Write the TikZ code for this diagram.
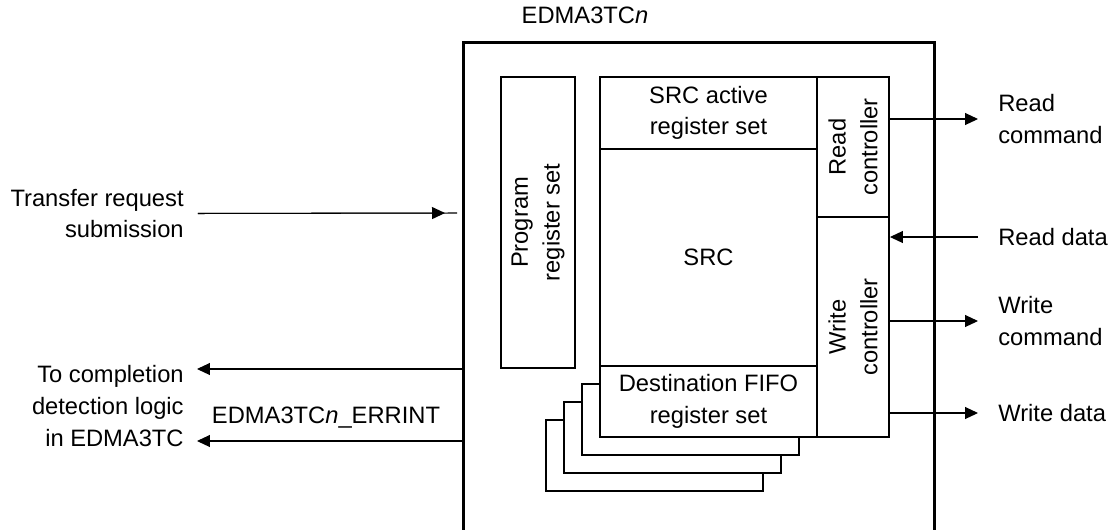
\documentclass[tikz,border=0pt]{standalone}
\usepackage{fontspec}
\setmainfont{Liberation Sans}
\usetikzlibrary{arrows.meta, positioning, calc}

\begin{document}
\begin{tikzpicture}[x=0.02cm, y=-0.02cm,
    font=\fontsize{13.5}{18}\selectfont,
    box/.style={draw, line width=1.1pt, fill=white, inner sep=0pt, align=center},
    lbl/.style={inner sep=0pt, align=left},
    arr/.style={line width=0.6pt, -{Triangle[length=0.26cm, width=0.24cm]}}]
    \useasboundingbox (0,0) rectangle (1110,529);

    % Transfer controller
    \node[draw, line width=1.7pt, minimum width=9.44cm, minimum height=10.4cm] (tc) at (699,302) {};
    \node (title) at (585,15) {EDMA3TC\textit{n}};

    \node[box, minimum width=5.82cm, minimum height=1.48cm, rotate=90] (prog) at (538,222.5) {Program\\register set};

    % Destination FIFO copies behind
    \foreach \k in {3,2,1}
        \node[box, minimum width=4.34cm, minimum height=1.42cm] (fifo\k) at ({708.5-18*\k},{401.5+18*\k}) {};

    \node[box, minimum width=4.34cm, minimum height=1.44cm] (srcact) at (708.5,113) {SRC active\\register set};
    \node[box, minimum width=4.34cm, minimum height=4.34cm] (src) at (708.5,257.5) {SRC};
    \node[box, minimum width=4.34cm, minimum height=1.42cm] (dst) at (708.5,401.5) {Destination FIFO\\register set};

    % Controllers (rotated, so .south is the right side)
    \node[box, minimum width=2.8cm, minimum height=1.44cm, rotate=90] (rdc) at (853,147) {Read\\controller};
    \node[box, minimum width=4.4cm, minimum height=1.44cm, rotate=90] (wrc) at (853,327) {Write\\controller};

    % Left side
    \node[lbl, align=right, anchor=east] (trs) at (184,213.5) {Transfer request\\submission};
    \node[lbl, align=right, anchor=east] (cmp) at (184,406) {To completion\\detection logic\\in EDMA3TC};
    \node[lbl] (err) at (326,418) {EDMA3TC\textit{n}\_ERRINT};

    \coordinate (trsin) at (457,213);
    \coordinate (cmpin) at (463,369);
    \coordinate (errin) at (463,441);

    \draw[line width=0.6pt, shorten <=0.28cm] (trs.east) -- (trsin);
    \draw[arr, shorten <=0.28cm, shorten >=0.24cm] (trs.east) -- (trsin);
    \draw[arr, shorten >=0.26cm] (cmpin) -- (cmp.east |- cmpin);
    \draw[arr, shorten >=0.26cm] (errin) -- (cmp.east |- errin);

    % Right side
    \node[lbl, anchor=west] (rcmd) at (998,119) {Read\\command};
    \node[lbl, anchor=west] (rdat) at (998,237) {Read data};
    \node[lbl, anchor=west] (wcmd) at (998,321) {Write\\command};
    \node[lbl, anchor=west] (wdat) at (998,413) {Write data};

    \draw[arr, shorten >=0.4cm] (rdc.south |- rcmd.west) -- (rcmd.west);
    \draw[arr, shorten <=0.4cm] (rdat.west) -- (wrc.south |- rdat.west);
    \draw[arr, shorten >=0.4cm] (wrc.south |- wcmd.west) -- (wcmd.west);
    \draw[arr, shorten >=0.4cm] (wrc.south |- wdat.west) -- (wdat.west);
\end{tikzpicture}
\end{document}
